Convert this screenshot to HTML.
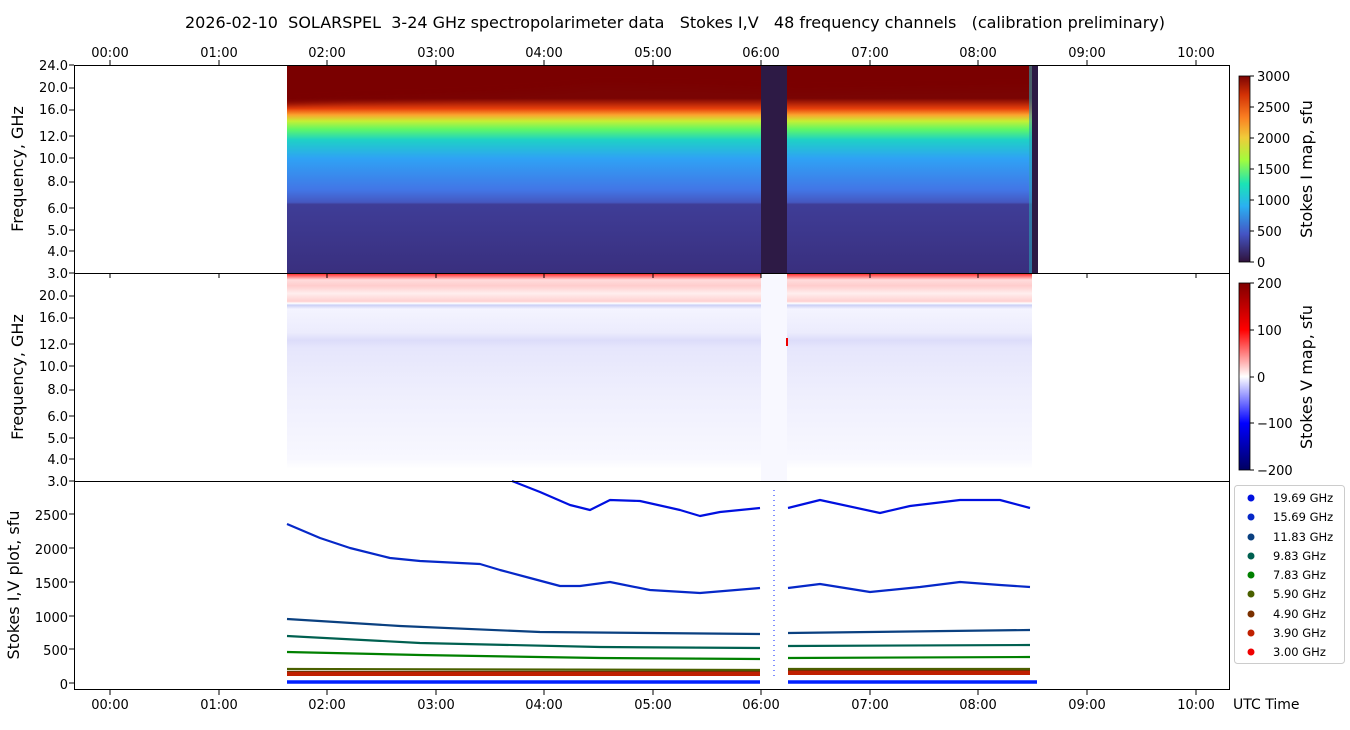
<!DOCTYPE html>
<html><head><meta charset="utf-8"><style>
body{margin:0;background:#fff;width:1350px;height:725px;overflow:hidden}
svg text{font-family:"DejaVu Sans","Liberation Sans",sans-serif;fill:#000}
</style></head><body>
<svg width="1350" height="725" viewBox="0 0 1350 725" xmlns="http://www.w3.org/2000/svg">
<defs>
<linearGradient id="gI" x1="0" y1="0" x2="0" y2="1">
<stop offset="0" stop-color="#7a0403"/><stop offset="0.16" stop-color="#7a0403"/>
<stop offset="0.21" stop-color="#e8400b"/><stop offset="0.24" stop-color="#fba32e"/>
<stop offset="0.27" stop-color="#c5f034"/><stop offset="0.31" stop-color="#5ef767"/>
<stop offset="0.36" stop-color="#1ed1c6"/><stop offset="0.45" stop-color="#2fa2f5"/>
<stop offset="0.60" stop-color="#4276e6"/><stop offset="0.66" stop-color="#4558c0"/>
<stop offset="0.67" stop-color="#3f3d97"/><stop offset="1" stop-color="#392f7e"/>
</linearGradient>
<linearGradient id="cI" x1="0" y1="1" x2="0" y2="0">
<stop offset="0" stop-color="#30123b"/><stop offset="0.15" stop-color="#4454c4"/>
<stop offset="0.3" stop-color="#2ab0f2"/><stop offset="0.42" stop-color="#1ae4b6"/>
<stop offset="0.55" stop-color="#a4fc3c"/><stop offset="0.67" stop-color="#f0cb3a"/>
<stop offset="0.78" stop-color="#fb7e21"/><stop offset="0.9" stop-color="#d23105"/>
<stop offset="1" stop-color="#7a0403"/></linearGradient>
<linearGradient id="cV" x1="0" y1="1" x2="0" y2="0">
<stop offset="0" stop-color="#000060"/><stop offset="0.25" stop-color="#0000ff"/>
<stop offset="0.5" stop-color="#ffffff"/><stop offset="0.75" stop-color="#ff0000"/>
<stop offset="1" stop-color="#800000"/></linearGradient>
<linearGradient id="gV" x1="0" y1="0" x2="0" y2="1">
<stop offset="0" stop-color="#f33"/><stop offset="0.03" stop-color="#fdd"/>
<stop offset="0.06" stop-color="#fcc"/><stop offset="0.1" stop-color="#fee"/>
<stop offset="0.14" stop-color="#ffd0d0"/><stop offset="0.15" stop-color="#fff"/>
<stop offset="0.16" stop-color="#ccd0f5"/><stop offset="0.18" stop-color="#f4f4ff"/>
<stop offset="0.3" stop-color="#ececfd"/><stop offset="0.34" stop-color="#dcdcfa"/>
<stop offset="0.38" stop-color="#e6e6fc"/><stop offset="0.6" stop-color="#eeeefd"/>
<stop offset="0.95" stop-color="#f8f8ff"/><stop offset="1" stop-color="#fff"/></linearGradient>
<filter id="bl"><feGaussianBlur stdDeviation="4"/></filter>
<clipPath id="cp"><rect x="287" y="65" width="745" height="208"/></clipPath>
</defs>
<text x="675" y="28" font-size="16" text-anchor="middle" xml:space="preserve">2026-02-10  SOLARSPEL  3-24 GHz spectropolarimeter data   Stokes I,V   48 frequency channels   (calibration preliminary)</text>

<!-- top panel -->
<rect x="287" y="65" width="750" height="208" fill="url(#gI)"/>
<g clip-path="url(#cp)"><g filter="url(#bl)"><path d="M270,50 L1040,50 L1040,88 L900,90 L800,92 L700,88 L600,86 L560,90 L500,94 L420,98 L350,100 L270,104 Z" fill="#7a0403"/></g></g>
<rect x="761" y="65" width="26" height="208" fill="#2d1a45"/>
<rect x="1032" y="65" width="6" height="208" fill="#2d1a45"/>
<rect x="1029" y="65" width="3" height="208" fill="#2aa0b0" opacity="0.6"/>

<!-- middle panel -->
<rect x="287" y="274" width="745" height="195" fill="url(#gV)"/>
<rect x="761" y="274" width="26" height="207" fill="#f8f8ff"/>
<rect x="786" y="338" width="2" height="8" fill="#e00"/>

<!-- bottom panel -->
<g fill="none" stroke-width="2.2" stroke-linejoin="round">
<polyline stroke="#0010e0" points="512,481 540,492 570,505 590,510 610,500 640,501 680,510 700,516 720,512 760,508"/>
<polyline stroke="#0010e0" points="788,508 820,500 880,513 910,506 960,500 1000,500 1030,508"/>
<polyline stroke="#0628c8" points="287,524 320,538 350,548 390,558 420,561 480,564 500,570 530,578 560,586 580,586 610,582 650,590 700,593 760,588"/>
<polyline stroke="#0628c8" points="788,588 820,584 870,592 920,587 960,582 1000,585 1030,587"/>
<polyline stroke="#0a4080" points="287,619 400,626 540,632 760,634"/><polyline stroke="#0a4080" points="788,633 1030,630"/>
<polyline stroke="#006050" points="287,636 420,643 600,647 760,648"/><polyline stroke="#006050" points="788,646 1030,645"/>
<polyline stroke="#008000" points="287,652 420,655 600,658 760,659"/><polyline stroke="#008000" points="788,658 1030,657"/>
<polyline stroke="#4a6000" points="287,669 760,670"/><polyline stroke="#4a6000" points="788,669 1030,669"/>
<polyline stroke="#7a3000" points="287,672 760,672"/><polyline stroke="#7a3000" points="788,671 1030,671"/>
<polyline stroke="#c02000" stroke-width="4" points="287,674 760,674"/><polyline stroke="#c02000" stroke-width="4" points="788,673 1030,673"/>
<polyline stroke="#0020ff" stroke-width="3.5" points="287,682 760,682"/><polyline stroke="#0020ff" stroke-width="3.5" points="788,682 1037,682"/>
</g>
<line x1="774" y1="490" x2="774" y2="680" stroke="#0020ff" stroke-dasharray="1 4" stroke-width="1"/>

<!-- frames -->
<g fill="none" stroke="#000" stroke-width="1">
<rect x="74.5" y="65.5" width="1155" height="416"/>
<line x1="74" y1="273.5" x2="1230" y2="273.5"/>
<rect x="74.5" y="481.5" width="1155" height="208"/>
</g>

<g stroke="#000">
<path d="M110,65v-5M219,65v-5M327,65v-5M436,65v-5M544,65v-5M653,65v-5M761,65v-5M870,65v-5M978,65v-5M1087,65v-5M1196,65v-5"/>
<path d="M110,273v5M219,273v5M327,273v5M436,273v5M544,273v5M653,273v5M761,273v5M870,273v5M978,273v5M1087,273v5M1196,273v5"/>
<path d="M110,690v5M219,690v5M327,690v5M436,690v5M544,690v5M653,690v5M761,690v5M870,690v5M978,690v5M1087,690v5M1196,690v5"/>
</g>
<g font-size="13" text-anchor="middle">
<text x="110" y="57">00:00</text><text x="219" y="57">01:00</text><text x="327" y="57">02:00</text><text x="436" y="57">03:00</text><text x="544" y="57">04:00</text><text x="653" y="57">05:00</text><text x="761" y="57">06:00</text><text x="870" y="57">07:00</text><text x="978" y="57">08:00</text><text x="1087" y="57">09:00</text><text x="1196" y="57">10:00</text>
<text x="110" y="709">00:00</text><text x="219" y="709">01:00</text><text x="327" y="709">02:00</text><text x="436" y="709">03:00</text><text x="544" y="709">04:00</text><text x="653" y="709">05:00</text><text x="761" y="709">06:00</text><text x="870" y="709">07:00</text><text x="978" y="709">08:00</text><text x="1087" y="709">09:00</text><text x="1196" y="709">10:00</text>
</g>
<text x="1233" y="709" font-size="14">UTC Time</text>

<g font-size="13" text-anchor="end">
<text x="68" y="70">24.0</text><text x="68" y="92">20.0</text><text x="68" y="114">16.0</text><text x="68" y="141">12.0</text><text x="68" y="163">10.0</text><text x="68" y="186">8.0</text><text x="68" y="213">6.0</text><text x="68" y="235">5.0</text><text x="68" y="256">4.0</text><text x="68" y="278">3.0</text>
<text x="68" y="300">20.0</text><text x="68" y="322">16.0</text><text x="68" y="349">12.0</text><text x="68" y="371">10.0</text><text x="68" y="394">8.0</text><text x="68" y="421">6.0</text><text x="68" y="443">5.0</text><text x="68" y="464">4.0</text><text x="68" y="486">3.0</text>
<text x="68" y="520">2500</text><text x="68" y="554">2000</text><text x="68" y="588">1500</text><text x="68" y="622">1000</text><text x="68" y="655">500</text><text x="68" y="689">0</text>
</g>
<g stroke="#000"><path d="M74,65h-5M74,88h-5M74,110h-5M74,136h-5M74,158h-5M74,182h-5M74,208h-5M74,230h-5M74,251h-5M74,273h-5M74,296h-5M74,318h-5M74,344h-5M74,366h-5M74,390h-5M74,416h-5M74,438h-5M74,459h-5M74,481h-5M74,514h-5M74,548h-5M74,582h-5M74,616h-5M74,649h-5M74,683h-5"/></g>
<text transform="translate(23,169) rotate(-90)" font-size="16" text-anchor="middle">Frequency, GHz</text>
<text transform="translate(23,377) rotate(-90)" font-size="16" text-anchor="middle">Frequency, GHz</text>
<text transform="translate(19,585) rotate(-90)" font-size="16" text-anchor="middle">Stokes I,V plot, sfu</text>

<rect x="1239" y="76" width="11" height="186" fill="url(#cI)" stroke="#000" stroke-width="0.8"/>
<rect x="1239" y="283" width="11" height="187" fill="url(#cV)" stroke="#000" stroke-width="0.8"/>
<g stroke="#000"><path d="M1250,76h4M1250,107h4M1250,138h4M1250,169h4M1250,200h4M1250,231h4M1250,262h4M1250,283h4M1250,330h4M1250,377h4M1250,423h4M1250,470h4"/></g>
<g font-size="13">
<text x="1257" y="81">3000</text><text x="1257" y="112">2500</text><text x="1257" y="143">2000</text><text x="1257" y="174">1500</text><text x="1257" y="205">1000</text><text x="1257" y="236">500</text><text x="1257" y="267">0</text>
<text x="1257" y="288">200</text><text x="1257" y="335">100</text><text x="1257" y="382">0</text><text x="1257" y="428">−100</text><text x="1257" y="475">−200</text>
</g>
<text transform="translate(1312,169) rotate(-90)" font-size="16" text-anchor="middle">Stokes I map, sfu</text>
<text transform="translate(1312,377) rotate(-90)" font-size="16" text-anchor="middle">Stokes V map, sfu</text>

<rect x="1234.5" y="485.5" width="110" height="178" rx="3" fill="#fff" stroke="#ccc"/>
<g font-size="11.5">
<circle cx="1251" cy="498" r="3.5" fill="#0010e0"/><text x="1273" y="502">19.69 GHz</text>
<circle cx="1251" cy="517" r="3.5" fill="#0628c8"/><text x="1273" y="521">15.69 GHz</text>
<circle cx="1251" cy="537" r="3.5" fill="#0a4080"/><text x="1273" y="541">11.83 GHz</text>
<circle cx="1251" cy="556" r="3.5" fill="#006050"/><text x="1273" y="560">9.83 GHz</text>
<circle cx="1251" cy="575" r="3.5" fill="#008000"/><text x="1273" y="579">7.83 GHz</text>
<circle cx="1251" cy="594" r="3.5" fill="#4a6000"/><text x="1273" y="598">5.90 GHz</text>
<circle cx="1251" cy="614" r="3.5" fill="#7a3000"/><text x="1273" y="618">4.90 GHz</text>
<circle cx="1251" cy="633" r="3.5" fill="#c02000"/><text x="1273" y="637">3.90 GHz</text>
<circle cx="1251" cy="652" r="3.5" fill="#f00000"/><text x="1273" y="656">3.00 GHz</text>
</g>
</svg>
</body></html>
